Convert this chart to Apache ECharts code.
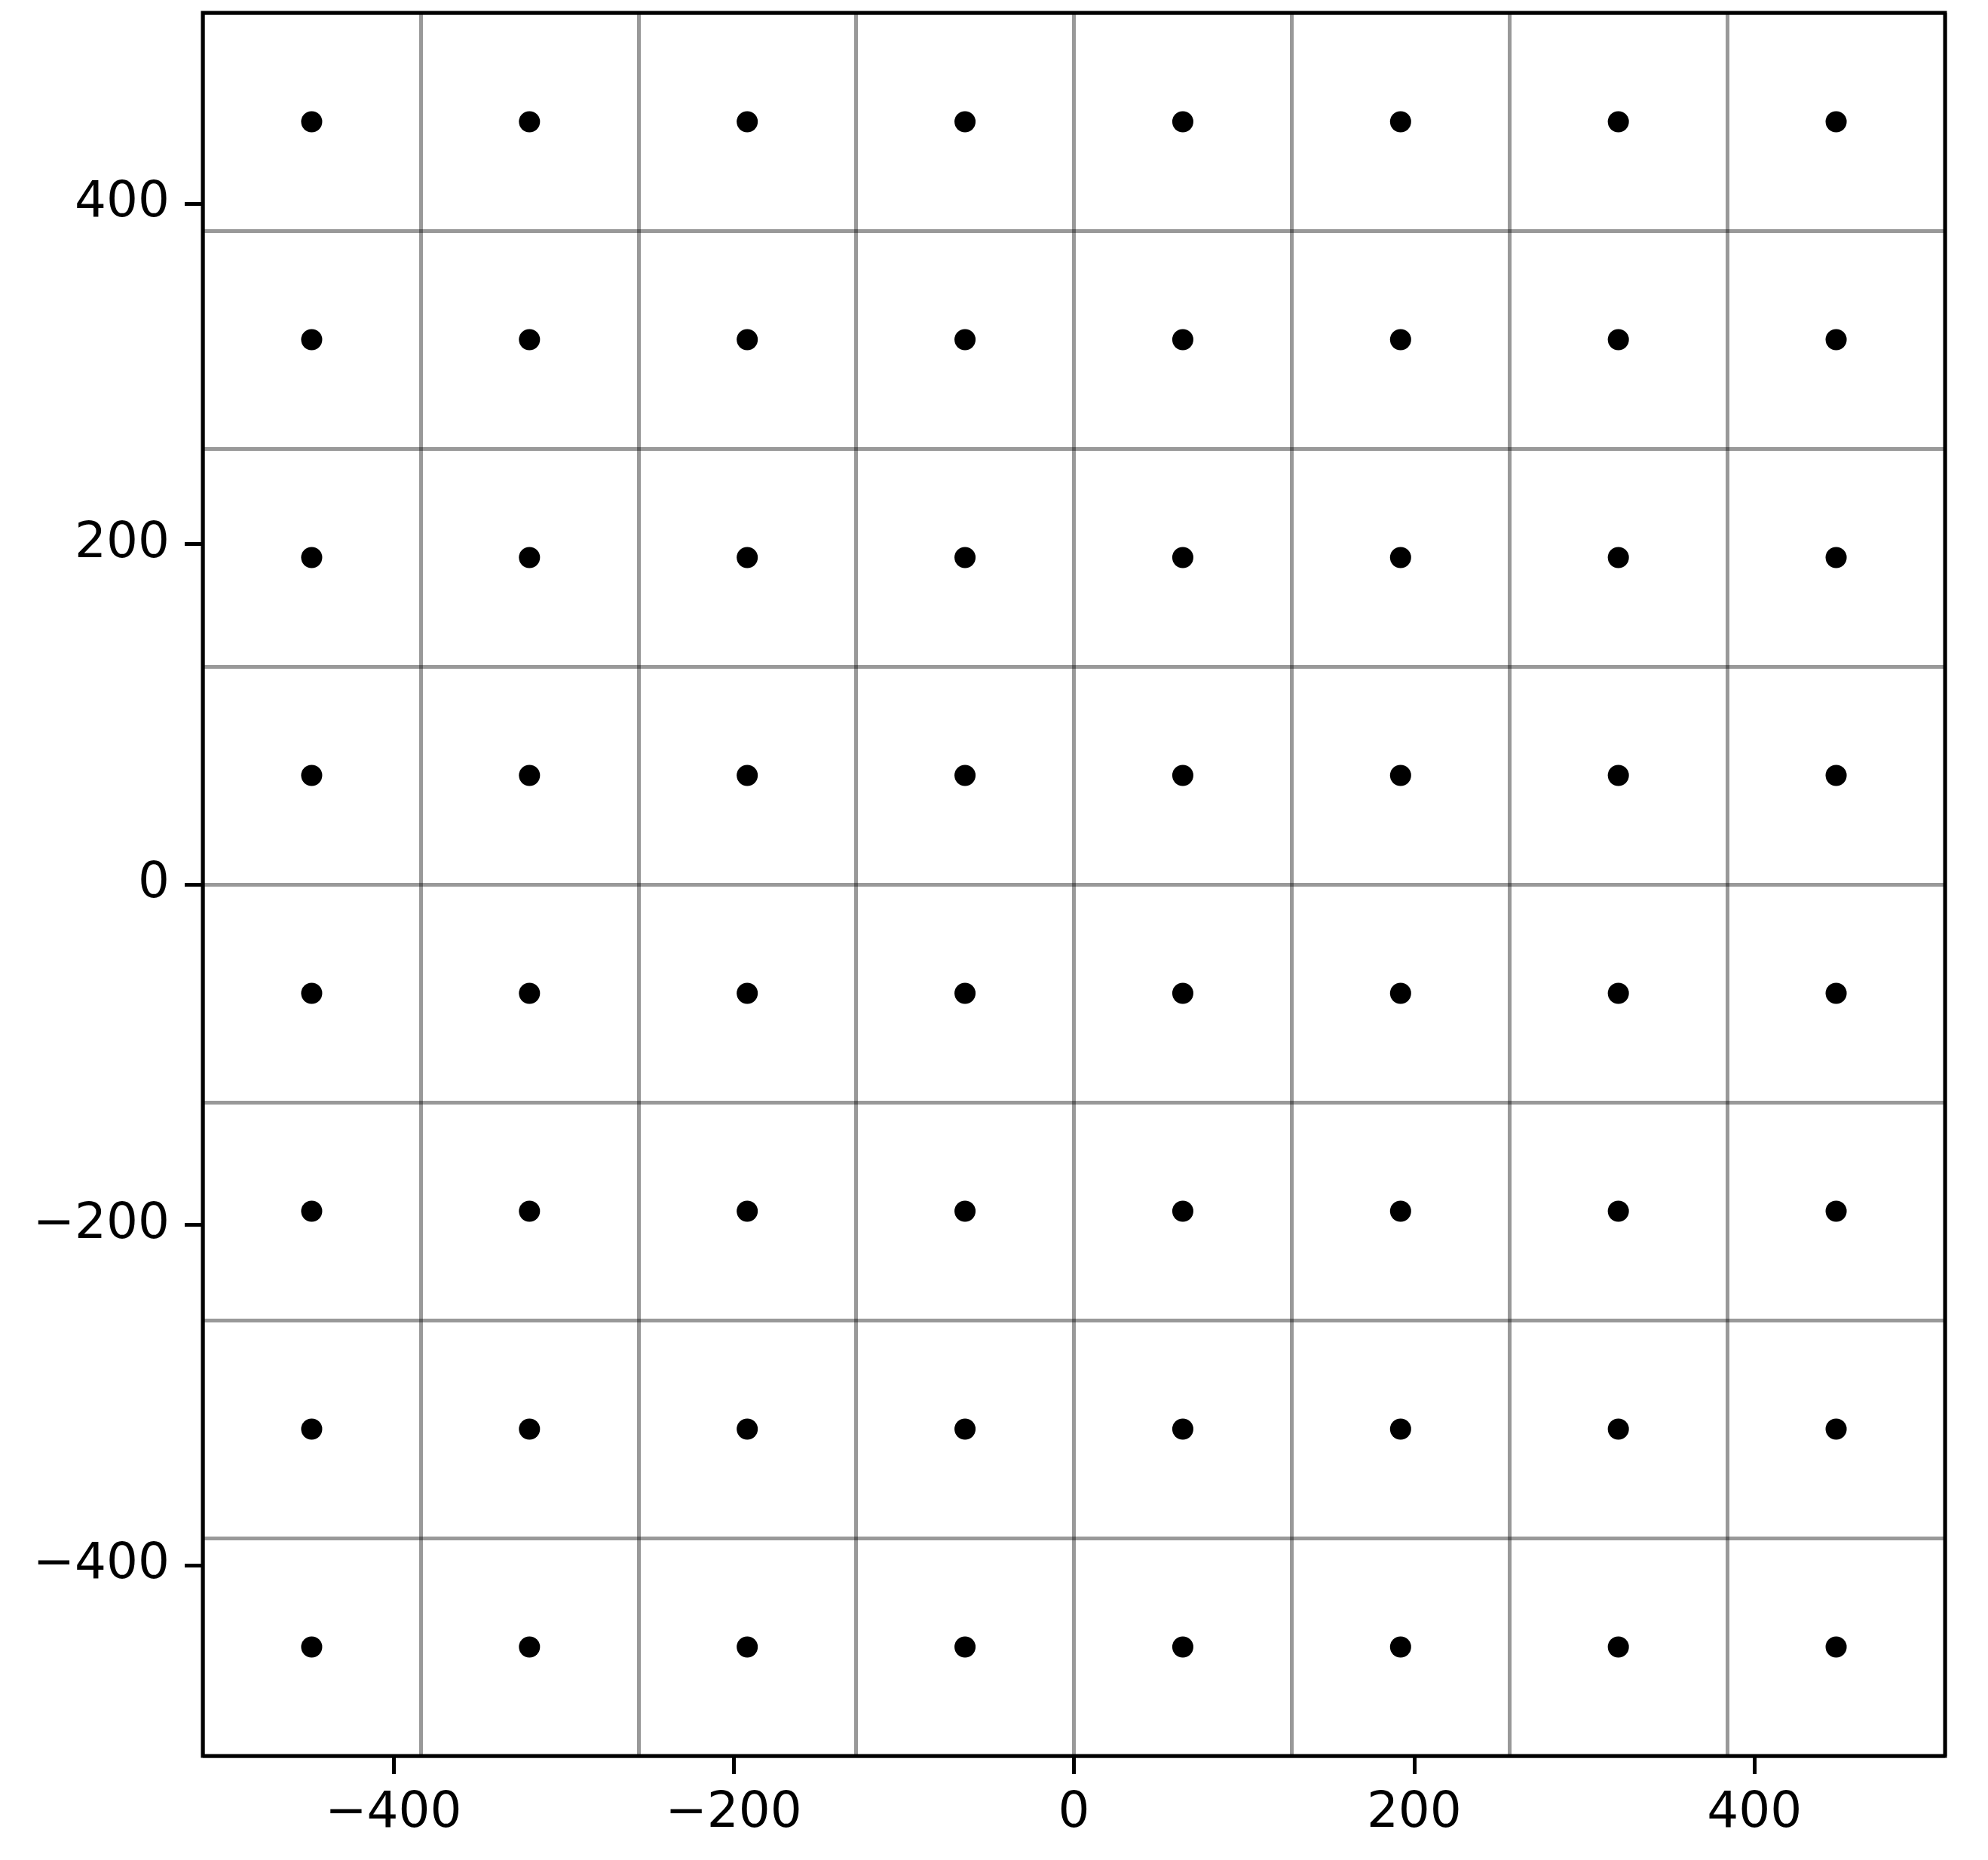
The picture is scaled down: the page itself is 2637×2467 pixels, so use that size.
<!DOCTYPE html>
<html>
<head>
<meta charset="utf-8">
<script src="https://cdn.jsdelivr.net/npm/echarts@6/dist/echarts.min.js"></script>
<style>
  html, body { margin: 0; padding: 0; background: #fff; }
  #chart { width: 2637px; height: 2467px; }
</style>
</head>
<body>
<div id="chart"></div>
<script>
// point centres on each axis
var xValues = [-448, -320, -192, -64, 64, 192, 320, 448]
var yValues = [-448, -320, -192, -64, 64, 192, 320, 448]
// labelled ticks
var tickValues = [-400, -200, 0, 200, 400]
// grid lines every 128
var gridStep = 128

let points = []
for (let i = 0; i < xValues.length; i++) {
    for (let j = 0; j < yValues.length; j++) {
        points.push([xValues[i], yValues[j]])
    }
}

let fmt = function (v) {
    return String(v).replace('-', '\u2212')
}

// axis with ticks and labels
let tickAxis = function (pos) {
    return {
        type: 'value',
        position: pos,
        min: -512,
        max: 512,
        axisLine: { show: false, onZero: false },
        axisTick: {
            show: true,
            inside: false,
            length: 24,
            customValues: tickValues,
            lineStyle: { color: '#000', width: 5 }
        },
        axisLabel: {
            customValues: tickValues,
            formatter: fmt,
            color: '#000',
            fontFamily: 'DejaVu Sans',
            fontSize: 66,
            margin: 44
        },
        splitLine: { show: false }
    }
}

// hidden axis that only draws the grid lines
let gridAxis = function (pos) {
    return {
        type: 'value',
        position: pos,
        min: -512,
        max: 512,
        interval: gridStep,
        axisLine: { show: false, onZero: false },
        axisTick: { show: false },
        axisLabel: { show: false },
        splitLine: {
            show: true,
            lineStyle: { color: 'rgba(0,0,0,0.4)', width: 5 }
        }
    }
}

let myChart = echarts.init(document.getElementById('chart'))
let option = {
    animation: false,
    backgroundColor: '#fff',
    grid: {
        left: 269,
        top: 17,
        width: 2311,
        height: 2312,
        show: true,
        borderColor: '#000',
        borderWidth: 5,
        backgroundColor: 'transparent'
    },
    xAxis: [tickAxis('bottom'), gridAxis('top')],
    yAxis: [tickAxis('left'), gridAxis('right')],
    series: [{
        type: 'scatter',
        data: points,
        symbol: 'circle',
        symbolSize: 28,
        itemStyle: { color: '#000', opacity: 1 },
        z: 5
    }]
}
myChart.setOption(option)
</script>
</body>
</html>
